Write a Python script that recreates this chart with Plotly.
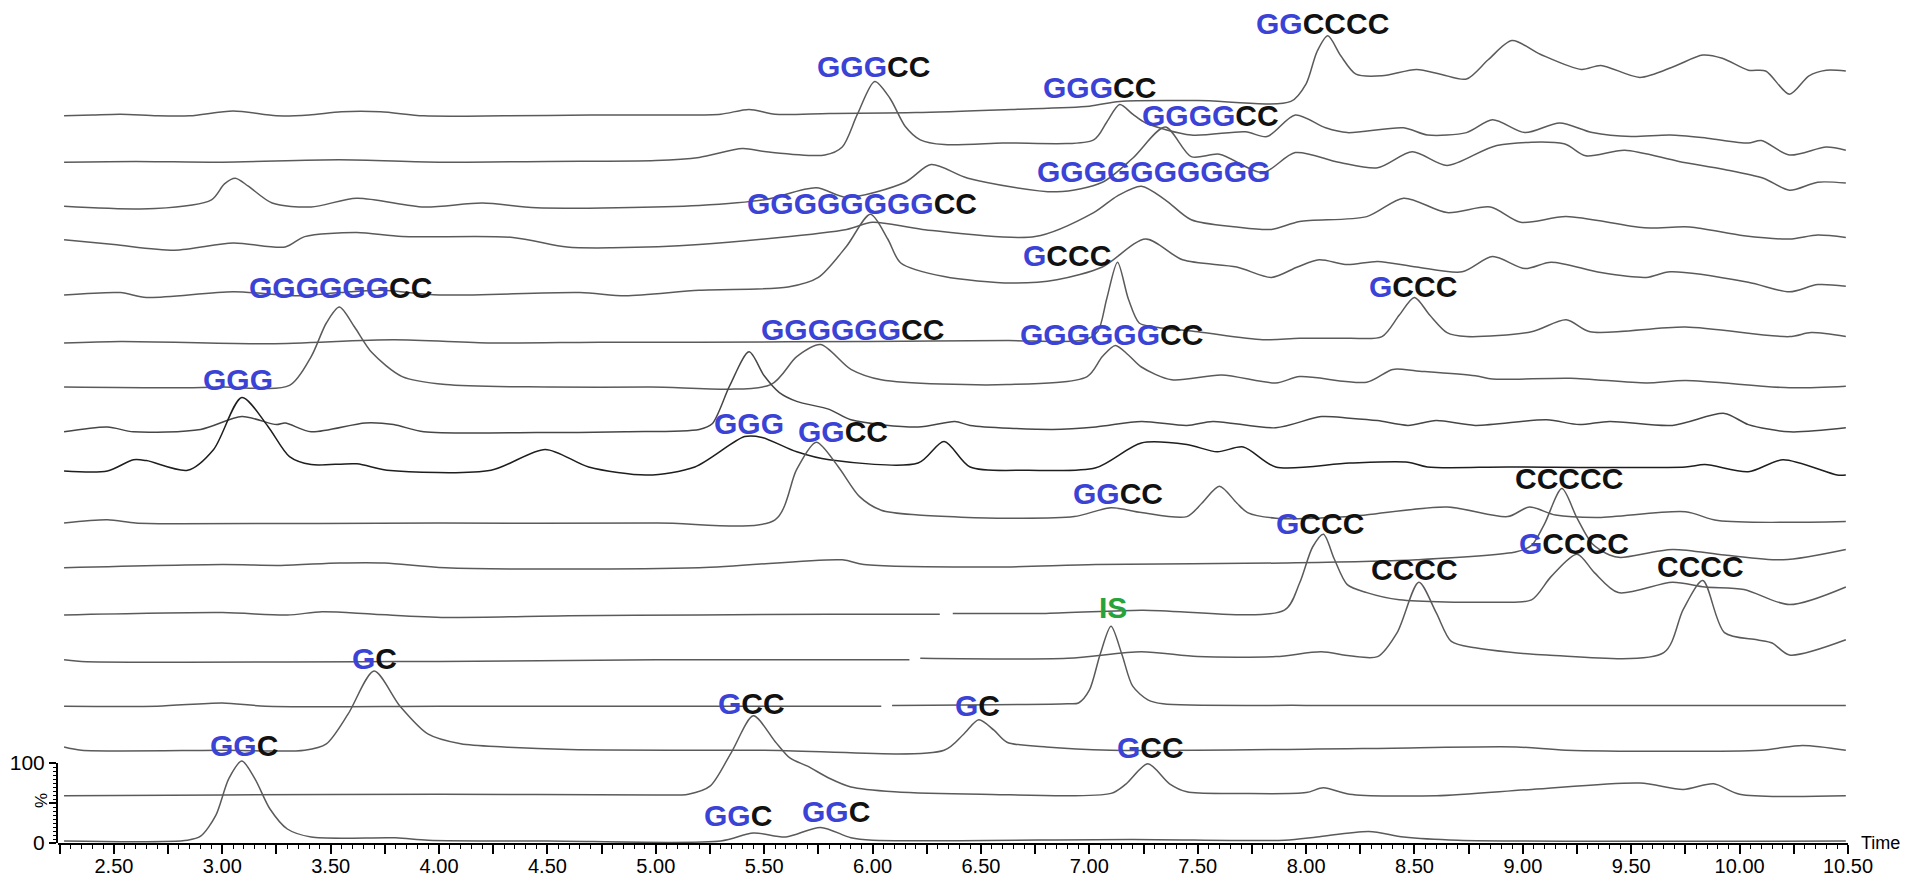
import plotly.graph_objects as go

# ---------------- data ----------------
# retention time (min) and relative intensity (%) of each stacked chromatogram, top to bottom
t1 = [2.27, 2.4, 2.53, 2.7, 2.85, 3.05, 3.25, 3.4, 3.55, 3.73, 3.93, 4.3, 4.7, 5.1, 5.3, 5.43, 5.55, 5.8, 6.2, 6.64, 7.0, 7.14, 7.5, 7.93, 8.0, 8.05, 8.1, 8.16, 8.23, 8.35, 8.51, 8.62, 8.74, 8.84, 8.95, 9.08, 9.27, 9.36, 9.54, 9.7, 9.83, 9.92, 10.04, 10.12, 10.23, 10.32, 10.4, 10.49]
v1 = [0, 1, 2, 0, 0, 6, 0, 1, 5, 5, 0, 0, 1, 1, 2, 8, 2, 3, 4, 8, 12, 18, 19, 18, 40, 80, 100, 75, 52, 50, 58, 52, 46, 70, 94, 77, 58, 63, 48, 62, 76, 72, 57, 56, 27, 50, 57, 56]

t2 = [2.27, 2.6, 3.0, 3.54, 4.0, 4.5, 5.0, 5.2, 5.4, 5.51, 5.78, 5.86, 5.93, 6.01, 6.08, 6.15, 6.22, 6.33, 6.6, 7.02, 7.08, 7.14, 7.2, 7.26, 7.47, 7.72, 7.82, 7.95, 8.09, 8.19, 8.45, 8.56, 8.74, 8.86, 9.01, 9.17, 9.32, 9.5, 9.68, 9.85, 10.04, 10.1, 10.23, 10.4, 10.49]
v2 = [0, 1, 0, 3, 0, 1, 2, 6, 17, 13, 9, 19, 60, 101, 80, 45, 28, 22, 24, 28, 50, 72, 60, 49, 34, 38, 32, 59, 43, 37, 43, 34, 37, 53, 37, 49, 37, 32, 34, 30, 24, 27, 9, 19, 15]

t3 = [2.27, 2.69, 2.95, 3.01, 3.06, 3.12, 3.23, 3.41, 3.62, 3.93, 4.2, 4.45, 5.2, 5.5, 5.74, 5.88, 6.15, 6.27, 6.44, 6.85, 7.06, 7.2, 7.35, 7.47, 7.6, 7.8, 7.95, 8.15, 8.33, 8.49, 8.65, 8.88, 9.19, 9.29, 9.47, 9.72, 9.93, 10.11, 10.23, 10.36, 10.49]
v3 = [0, -3, 8, 28, 35, 25, 4, -1, 10, -1, 4, -2, 1, 8, 23, 11, 30, 52, 35, 18, 30, 60, 99, 62, 65, 42, 67, 55, 48, 68, 51, 76, 78, 63, 70, 56, 46, 35, 20, 30, 29]

t4 = [2.27, 2.5, 2.78, 3.05, 3.29, 3.38, 3.62, 3.83, 4.34, 4.59, 4.8, 5.2, 5.88, 6.0, 6.23, 6.75, 7.02, 7.13, 7.24, 7.35, 7.47, 7.68, 7.84, 7.97, 8.28, 8.45, 8.65, 8.85, 8.99, 9.2, 9.56, 9.77, 10.02, 10.23, 10.36, 10.49]
v4 = [0, -6, -13, -4, -9, 4, 9, 4, 3, -9, -10, -6, 13, 22, 13, 4, 34, 55, 67, 50, 25, 16, 13, 23, 29, 52, 34, 41, 22, 29, 15, 16, 5, 1, 6, 3]

t5 = [2.27, 2.53, 2.65, 3.05, 3.36, 3.54, 3.73, 4.0, 4.65, 4.86, 5.2, 5.61, 5.75, 5.88, 5.99, 6.07, 6.13, 6.33, 6.64, 6.85, 7.06, 7.26, 7.43, 7.68, 7.84, 7.96, 8.06, 8.19, 8.33, 8.51, 8.72, 8.86, 9.01, 9.13, 9.36, 9.57, 9.68, 10.04, 10.23, 10.36, 10.49]
v5 = [0, 3, -3, 4, -1, 3, 6, 0, 3, -1, 6, 10, 22, 61, 101, 70, 40, 23, 15, 19, 35, 70, 44, 35, 22, 35, 44, 38, 42, 35, 29, 48, 33, 41, 28, 22, 29, 16, 4, 13, 11]

t6 = [2.27, 2.53, 3.22, 3.79, 4.24, 4.74, 5.2, 6.0, 6.62, 6.98, 7.04, 7.08, 7.13, 7.18, 7.23, 7.3, 7.5, 7.8, 7.97, 8.2, 8.35, 8.43, 8.5, 8.57, 8.65, 8.74, 9.04, 9.2, 9.31, 9.75, 10.23, 10.33, 10.49]
v6 = [0, 2, -1, 4, 0, 1, 1, 2, 3, 4, 15, 55, 101, 55, 25, 20, 14, 4, 6, 6, 8, 35, 57, 35, 13, 8, 14, 29, 14, 20, 8, 13, 8]

t7 = [2.27, 2.8, 3.0, 3.31, 3.41, 3.48, 3.54, 3.61, 3.69, 3.83, 4.03, 4.5, 4.97, 5.53, 5.65, 5.76, 5.9, 6.04, 6.62, 6.99, 7.06, 7.12, 7.18, 7.24, 7.38, 7.61, 7.86, 7.97, 8.28, 8.4, 8.51, 8.78, 8.86, 9.22, 9.57, 9.75, 10.23, 10.49]
v7 = [0, -1, 0, 2, 38, 80, 100, 75, 43, 13, 3, 0, 0, 3, 38, 53, 22, 9, 3, 13, 38, 52, 40, 25, 9, 15, 5, 13, 6, 22, 20, 14, 10, 11, 5, 8, -1, 1]

t8 = [2.27, 2.47, 2.59, 2.9, 3.09, 3.25, 3.29, 3.41, 3.66, 3.79, 3.93, 4.45, 4.86, 5.2, 5.26, 5.34, 5.43, 5.5, 5.57, 5.65, 5.8, 5.9, 6.21, 6.38, 6.45, 6.83, 7.03, 7.24, 7.45, 7.57, 7.86, 8.07, 8.2, 8.33, 8.47, 8.6, 8.78, 9.11, 9.26, 9.4, 9.69, 9.93, 10.04, 10.23, 10.49]
v8 = [0, 6, 0, 3, 19, 9, 11, 0, 11, 9, 0, -1, 0, 3, 10, 57, 100, 70, 49, 38, 28, 15, 6, 13, 8, 3, 6, 13, 8, 13, 5, 19, 17, 14, 8, 14, 8, 15, 9, 13, 8, 23, 9, 0, 5]

t9 = [2.27, 2.47, 2.59, 2.65, 2.84, 2.96, 3.09, 3.21, 3.31, 3.41, 3.62, 3.76, 4.24, 4.49, 4.69, 4.96, 5.18, 5.41, 5.49, 5.65, 5.8, 6.21, 6.33, 6.45, 6.72, 7.03, 7.24, 7.45, 7.59, 7.71, 7.86, 8.2, 8.47, 8.56, 8.93, 9.75, 9.84, 10.04, 10.2, 10.45, 10.49]
v9 = [0, 0, 14, 13, 1, 27, 92, 56, 18, 8, 9, 1, 1, 27, 5, -5, 5, 43, 42, 24, 14, 10, 37, 5, 1, 4, 35, 33, 24, 30, 5, 10, 11, 5, 5, 5, 8, -1, 14, -5, -5]

t10 = [2.27, 2.47, 2.6, 2.8, 4.0, 5.0, 5.55, 5.65, 5.74, 5.84, 5.94, 6.04, 6.21, 6.62, 6.93, 7.1, 7.24, 7.45, 7.52, 7.6, 7.68, 7.73, 7.86, 8.2, 8.65, 8.93, 9.03, 9.15, 9.35, 9.75, 9.9, 10.49]
v10 = [0, 4, 0, -1, 0, 0, 4, 67, 101, 71, 33, 16, 10, 6, 8, 19, 13, 8, 25, 46, 25, 13, 6, 8, 20, 8, 20, 10, 7, 14, 3, 2]

t11 = [2.27, 3.0, 3.27, 3.54, 3.75, 4.03, 5.2, 5.86, 5.96, 6.56, 7.03, 7.9, 8.51, 8.97, 9.04, 9.1, 9.18, 9.25, 9.32, 9.4, 9.45, 9.69, 9.93, 10.2, 10.49]
v11 = [0, 4, 3, 6, 6, 0, 0, 10, 4, 1, 4, 6, 10, 20, 28, 55, 99, 62, 30, 16, 13, 23, 16, 10, 23]

t12 = [2.27, 3.0, 3.3, 3.46, 3.7, 4.03, 4.6, 5.2, 5.8, 6.31, None, 6.37, 6.8, 7.24, 7.9, 7.97, 8.03, 8.08, 8.13, 8.19, 8.28, 8.43, 8.86, 9.04, 9.13, 9.25, 9.33, 9.44, 9.69, 9.84, 10.02, 10.23, 10.49]
v12 = [0, 3, 0, 4, 1, -3, -1, 0, 1, 1, None, 2, 2, 6, 6, 40, 85, 101, 70, 38, 28, 19, 16, 19, 48, 76, 53, 28, 41, 35, 32, 13, 35]

t13 = [2.27, 2.35, 4.0, 5.0, 6.17, None, 6.22, 6.9, 7.24, 7.5, 7.86, 8.07, 8.2, 8.33, 8.42, 8.52, 8.6, 8.67, 8.78, 9.11, 9.65, 9.74, 9.83, 9.93, 10.08, 10.15, 10.23, 10.49]
v13 = [0, -2, -2, 0, 0, None, 2, 2, 10, 4, 4, 10, 5, 4, 34, 97, 59, 23, 15, 6, 9, 63, 99, 34, 25, 21, 6, 25]

t14 = [2.27, 2.7, 3.0, 3.2, 4.0, 5.0, 6.04, None, 6.09, 6.9, 6.95, 7.0, 7.05, 7.1, 7.15, 7.2, 7.27, 7.34, 8.0, 9.0, 10.49]
v14 = [0, 0, 4, 0, 0, 0, 0, None, 1, 3, 4, 20, 65, 100, 65, 25, 8, 3, 1, 1, 1]

t15 = [2.27, 2.35, 3.0, 3.38, 3.48, 3.58, 3.7, 3.82, 3.95, 4.1, 4.3, 4.6, 5.5, 6.33, 6.42, 6.49, 6.56, 6.62, 6.8, 7.1, 8.26, 8.97, 9.2, 10.1, 10.29, 10.49]
v15 = [4, 0, 0, 0, 8, 45, 99, 55, 20, 8, 4, 1, 0, 0, 20, 38, 25, 10, 4, 0, 2, 4, 0, 0, 6, 0]

t16 = [2.27, 3.0, 4.0, 5.0, 5.15, 5.25, 5.35, 5.45, 5.55, 5.62, 5.7, 5.8, 5.9, 6.1, 6.5, 7.1, 7.17, 7.27, 7.37, 7.45, 7.7, 8.0, 8.08, 8.2, 8.6, 9.04, 9.54, 9.74, 9.88, 10.0, 10.49]
v16 = [0, 1, 2, 1, 2, 12, 55, 100, 68, 47, 37, 22, 11, 5, 2, 3, 15, 40, 15, 5, 3, 4, 10, 2, 0, 8, 16, 8, 15, 2, 0]

t17 = [2.27, 2.84, 2.9, 2.97, 3.03, 3.09, 3.15, 3.22, 3.3, 3.41, 3.8, 3.95, 4.5, 5.3, 5.45, 5.6, 5.76, 5.9, 6.0, 7.2, 7.9, 8.05, 8.29, 8.45, 8.7, 10.49]
v17 = [0, 1, 6, 32, 78, 100, 78, 40, 15, 5, 4, 1, 0, 0, 10, 5, 17, 4, 1, 2, 1, 5, 12, 5, 1, 0]

# vertical stacking offset of each chromatogram (in % units of the bottom trace)
offsets = [909, 851, 796, 754, 685, 625, 570, 514, 465, 400, 344, 285, 229, 171, 116, 59, 2.5]

# peak labels: text, retention time, stacked level
label_text = ['GGCCCC', 'GGGCC', 'GGGCC', 'GGGGCC', 'GGGGGGGGGG', 'GGGGGGGGCC', 'GCCC', 'GCCC',
              'GGGGGGCC', 'GGGGGGCC', 'GGGGGGCC', 'GGG', 'GGG', 'GGCC', 'GGCC', 'CCCCC', 'GCCC',
              'GCCCC', 'CCCC', 'CCCC', 'IS', 'GC', 'GCC', 'GC', 'GCC', 'GGC', 'GGC', 'GGC']
label_time = [8.075, 6.003, 7.045, 7.56, 7.295, 5.952, 6.898, 8.494,
              3.543, 5.906, 7.101, 3.072, 5.430, 5.864, 7.133, 9.214, 8.065,
              9.237, 8.499, 9.819, 7.110, 3.700, 5.440, 6.482, 7.281, 3.100, 5.380, 5.832]
label_level = [1025, 971, 944, 909, 839, 799, 734, 696,
               695, 642.5, 636, 579, 525, 514, 437.5, 456, 400,
               374, 342.5, 346, 294, 231, 175, 172.5, 120, 122.5, 34, 39]

tick_labels = ['2.50', '3.00', '3.50', '4.00', '4.50', '5.00', '5.50', '6.00', '6.50',
               '7.00', '7.50', '8.00', '8.50', '9.00', '9.50', '10.00', '10.50']

# ---------------- figure ----------------
times = [t1, t2, t3, t4, t5, t6, t7, t8, t9, t10, t11, t12, t13, t14, t15, t16, t17]
vals = [v1, v2, v3, v4, v5, v6, v7, v8, v9, v10, v11, v12, v13, v14, v15, v16, v17]

BLUE = '#3a43d6'
BLACK = '#111111'
GREEN = '#27a33c'
FONT = 'Liberation Sans, Arial, sans-serif'

fig = go.Figure()
for i, (tt, vv, off) in enumerate(zip(times, vals, offsets)):
    if len(tt) != len(vv):
        raise ValueError('length mismatch in trace %d' % (i + 1))
    yy = [None if v is None else off + v for v in vv]
    col = 'rgb(30,30,30)' if i == 8 else ('rgb(70,70,70)' if i == 7 else 'rgb(90,90,90)')
    fig.add_trace(go.Scatter(x=tt, y=yy, mode='lines', connectgaps=False,
                             line=dict(color=col, width=1.5, shape='spline', smoothing=0.8),
                             hoverinfo='skip', showlegend=False))

# empty trace so the short % axis exists
fig.add_trace(go.Scatter(x=[], y=[], yaxis='y2', showlegend=False, hoverinfo='skip'))


def colorize(s):
    if s == 'IS':
        return '<b><span style="color:%s">IS</span></b>' % GREEN
    out = []
    run = s[0]
    for ch in s[1:]:
        if ch == run[-1]:
            run += ch
        else:
            out.append(run)
            run = ch
    out.append(run)
    html = ''
    for r in out:
        c = BLUE if r[0] == 'G' else BLACK
        html += '<span style="color:%s">%s</span>' % (c, r)
    return '<b>' + html + '</b>'


for s, tx, lv in zip(label_text, label_time, label_level):
    fig.add_annotation(x=tx, y=lv, xref='x', yref='y', text=colorize(s), showarrow=False,
                       xanchor='center', yanchor='middle',
                       font=dict(family=FONT, size=30, color=BLACK))

# axis decorations (paper coordinates, just outside the plot area)
fig.add_annotation(x=1.0062, y=0.0, xref='paper', yref='paper', text='Time', showarrow=False,
                   xanchor='left', yanchor='middle', font=dict(family=FONT, size=18, color='black'))
fig.add_annotation(x=-0.0095, y=0.051, xref='paper', yref='paper', text='%', showarrow=False,
                   textangle=-90, xanchor='center', yanchor='middle',
                   font=dict(family=FONT, size=17, color='black'))

major_vals = [2.25 + 0.25 * k for k in range(34)]
label_map = {float(s): s for s in tick_labels}
major_text = [label_map.get(round(v, 2), '') for v in major_vals]

fig.update_layout(
    width=1905, height=877,
    margin=dict(l=58, r=57, t=0, b=34, pad=0, autoexpand=False),
    paper_bgcolor='white', plot_bgcolor='rgba(0,0,0,0)',
    showlegend=False,
    xaxis=dict(range=[2.242, 10.5], showgrid=False, zeroline=False, automargin=False,
               showline=True, linecolor='black', linewidth=2,
               ticks='outside', ticklen=9, tickwidth=1.5, tickcolor='black',
               tickmode='array', tickvals=major_vals, ticktext=major_text,
               ticklabelstandoff=-5,
               tickfont=dict(family=FONT, size=20, color='black'),
               minor=dict(ticks='outside', ticklen=4, tickwidth=1, tickcolor='black',
                          tickmode='linear', tick0=2.25, dtick=0.05, showgrid=False),
               anchor='y', fixedrange=True),
    yaxis=dict(range=[0, 1053.75], visible=False, domain=[0, 1], automargin=False,
               fixedrange=True),
    yaxis2=dict(domain=[0, 80 / 843], range=[0, 100], anchor='x', showgrid=False,
                zeroline=False, showline=True, linecolor='black', linewidth=2, automargin=False,
                ticks='outside', ticklen=7, tickwidth=1.5, tickcolor='black',
                tickmode='array', tickvals=[0, 50, 100], ticktext=['0', '', '100'],
                tickfont=dict(family=FONT, size=21, color='black'),
                minor=dict(ticks='outside', ticklen=3, tickwidth=1, tickcolor='black',
                           tickmode='linear', tick0=0, dtick=5),
                fixedrange=True),
)

fig.write_html('out.html')
